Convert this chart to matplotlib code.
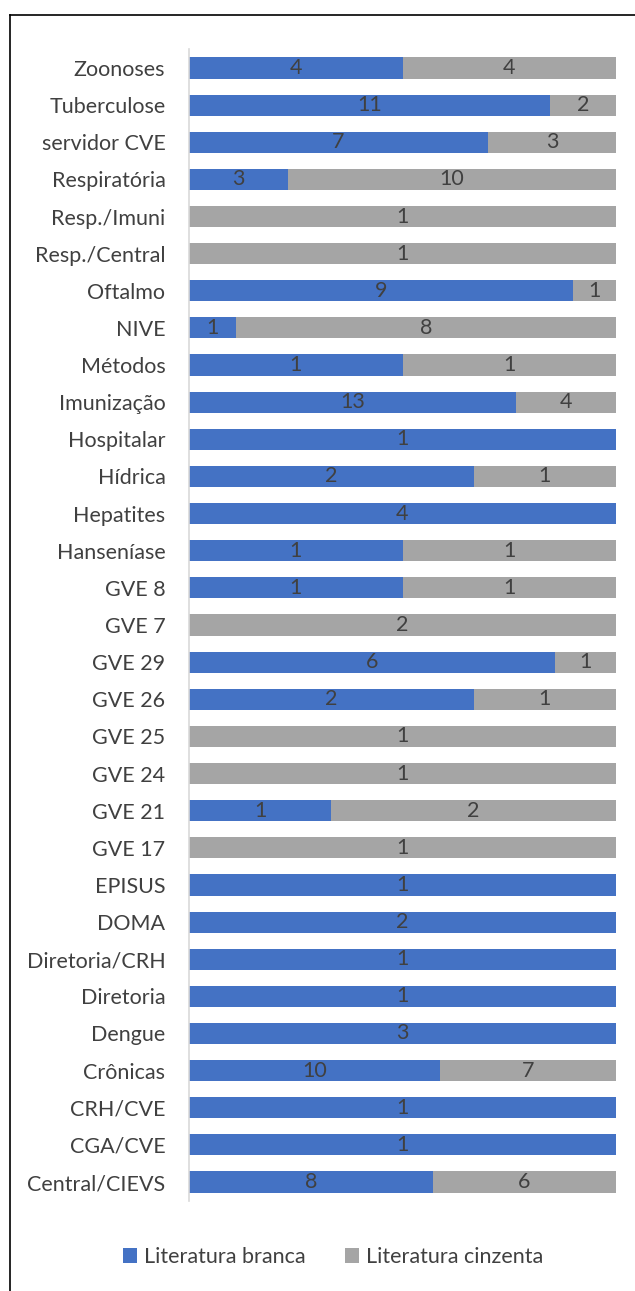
import numpy as np
import matplotlib
matplotlib.use("Agg")
import matplotlib.pyplot as plt
from matplotlib.lines import Line2D

plt.rcParams['font.family'] = ['Lato', 'DejaVu Sans']

# categories from top to bottom
categorias = ["Zoonoses", "Tuberculose", "servidor CVE", "Respiratória", "Resp./Imuni",
              "Resp./Central", "Oftalmo", "NIVE", "Métodos", "Imunização", "Hospitalar",
              "Hídrica", "Hepatites", "Hanseníase", "GVE 8", "GVE 7", "GVE 29", "GVE 26",
              "GVE 25", "GVE 24", "GVE 21", "GVE 17", "EPISUS", "DOMA", "Diretoria/CRH",
              "Diretoria", "Dengue", "Crônicas", "CRH/CVE", "CGA/CVE", "Central/CIEVS"]
branca = [4, 11, 7, 3, 0, 0, 9, 1, 1, 13, 1, 2, 4, 1, 1, 0, 6, 2, 0, 0, 1, 0, 1, 2, 1, 1, 3, 10, 1, 1, 8]
cinzenta = [4, 2, 3, 10, 1, 1, 1, 8, 1, 4, 0, 1, 0, 1, 1, 2, 1, 1, 1, 1, 2, 1, 0, 0, 0, 0, 0, 7, 0, 0, 6]

azul = "#4472C4"
cinza = "#A5A5A5"
texto = "#404040"
fs = 15.5

b = np.array(branca, dtype=float)
c = np.array(cinzenta, dtype=float)
tot = b + c
pb = b / tot
pc = c / tot
y = np.arange(len(categorias))

fig = plt.figure(figsize=(6.35, 12.91), dpi=100)
ax = fig.add_axes([189/635, 1 - 1200.6/1291, (616-189)/635, (1200.6-49.4)/1291])

h = 0.57
bars1 = ax.barh(y, pb, height=h, color=azul, label="Literatura branca")
bars2 = ax.barh(y, pc, left=pb, height=h, color=cinza, label="Literatura cinzenta")
ax.bar_label(bars1, labels=[str(v) if v else "" for v in branca], label_type="center",
             color=texto, fontsize=fs)
ax.bar_label(bars2, labels=[str(v) if v else "" for v in cinzenta], label_type="center",
             color=texto, fontsize=fs)

ax.set_xlim(0, 1)
ax.set_ylim(len(categorias) - 0.5, -0.5)
ax.set_yticks(y)
ax.set_yticklabels(categorias, fontsize=fs, color=texto)
ax.tick_params(axis="y", length=0, pad=17)
ax.set_xticks([])
for s in ["top", "right", "bottom"]:
    ax.spines[s].set_visible(False)
ax.spines["left"].set_color("#D9D9D9")
ax.spines["left"].set_linewidth(1.2)

leg = fig.legend(loc="center", bbox_to_anchor=(333/635, 1 - 1257/1291), ncol=2, frameon=False,
                 fontsize=fs, handlelength=0.65, handleheight=0.65, handletextpad=0.35,
                 columnspacing=1.8)
for t in leg.get_texts():
    t.set_color(texto)

# outer frame (left and top edges visible)
fig.add_artist(Line2D([10/635, 10/635], [0, 1 - 15/1291], color="black", lw=1.2,
                      transform=fig.transFigure))
fig.add_artist(Line2D([10/635, 1], [1 - 15/1291, 1 - 15/1291], color="black", lw=1.2,
                      transform=fig.transFigure))

fig.savefig("out.png", dpi=100)
